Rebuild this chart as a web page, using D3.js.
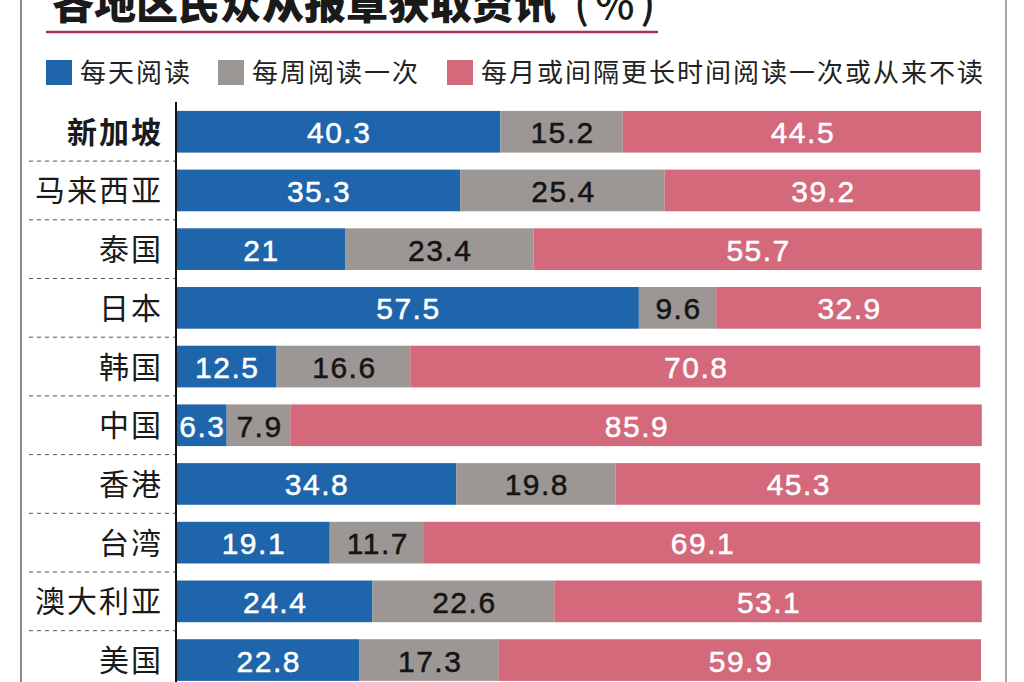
<!DOCTYPE html>
<html>
<head>
<meta charset="utf-8">
<script src="https://cdn.jsdelivr.net/npm/d3@7/dist/d3.min.js"></script>
<style>
html,body{margin:0;padding:0;background:#fff;}
svg{display:block;}
</style>
</head>
<body>
<svg id="chart" width="1024" height="682"></svg>
<script>
const titleMain = "各地区民众从报章获取资讯";
const titleUnit = ["(", "%", ")"];
const seriesNames = ["每天阅读", "每周阅读一次", "每月或间隔更长时间阅读一次或从来不读"];
const categories = ["新加坡", "马来西亚", "泰国", "日本", "韩国", "中国", "香港", "台湾", "澳大利亚", "美国"];
const daily   = [40.3, 35.3, 21, 57.5, 12.5, 6.3, 34.8, 19.1, 24.4, 22.8];
const weekly  = [15.2, 25.4, 23.4, 9.6, 16.6, 7.9, 19.8, 11.7, 22.6, 17.3];
const monthly = [44.5, 39.2, 55.7, 32.9, 70.8, 85.9, 45.3, 69.1, 53.1, 59.9];

const colors = ["#1f65ab", "#9c9794", "#d3697b"];
const labelColors = ["#ffffff", "#141414", "#ffffff"];

const svg = d3.select("#chart");
const W = 1024, H = 682;

const rows = categories.map((c, i) => ({cat: c, vals: [daily[i], weekly[i], monthly[i]]}));

const x = d3.scaleLinear().domain([0, 100]).range([176, 981]);
const y = d3.scaleBand().domain(categories).range([102.4, 689.4]).paddingInner(0.29).paddingOuter(0.145);

// frame lines
svg.append("line").attr("x1", 21).attr("x2", 21).attr("y1", 0).attr("y2", H)
  .attr("stroke", "#8a8a8a").attr("stroke-width", 2);
svg.append("line").attr("x1", 1006).attr("x2", 1006).attr("y1", 0).attr("y2", H)
  .attr("stroke", "#8a8a8a").attr("stroke-width", 1.5);

// title
const t = svg.append("text").attr("x", 52).attr("y", 19)
  .attr("font-family", "'Noto Sans CJK SC', sans-serif").attr("font-weight", 900)
  .attr("font-size", 42).attr("fill", "#1a1a1a");
t.append("tspan").text(titleMain);
t.append("tspan").attr("dx", 18).attr("font-weight", 500).text(titleUnit[0]);
t.append("tspan").attr("dx", 6).attr("font-weight", 500).text(titleUnit[1]);
t.append("tspan").attr("dx", 6).attr("font-weight", 500).text(titleUnit[2]);
svg.append("line").attr("x1", 46).attr("x2", 658).attr("y1", 32).attr("y2", 32)
  .attr("stroke", "#a8344d").attr("stroke-width", 2.5);

// legend
const legendX = [46, 218, 447];
const lg = svg.append("g");
seriesNames.forEach((s, i) => {
  lg.append("rect").attr("x", legendX[i]).attr("y", 60).attr("width", 26).attr("height", 25).attr("fill", colors[i]);
  lg.append("text").attr("x", legendX[i] + 34).attr("y", 82)
    .attr("font-family", "'Noto Sans CJK SC', sans-serif").attr("font-size", 26)
    .attr("letter-spacing", 2).attr("fill", "#222").text(s);
});

// dashed separators
const step = y.step();
categories.forEach((c, i) => {
  if (i === 0) return;
  const yy = y(c) - (step - y.bandwidth()) / 2;
  svg.append("line").attr("x1", 29).attr("x2", 175).attr("y1", yy).attr("y2", yy)
    .attr("stroke", "#555").attr("stroke-width", 1).attr("stroke-dasharray", "4,4");
});

// bars
const g = svg.append("g");
rows.forEach(r => {
  let acc = 0;
  r.vals.forEach((v, k) => {
    const x0 = x(acc), x1 = x(acc + v);
    g.append("rect").attr("x", x0).attr("y", y(r.cat)).attr("width", x1 - x0).attr("height", y.bandwidth())
      .attr("fill", colors[k]);
    g.append("text").attr("x", (x0 + x1) / 2 + 1).attr("y", y(r.cat) + y.bandwidth() / 2 + 11.5)
      .attr("text-anchor", "middle").attr("font-family", "'Liberation Sans', Arial, sans-serif")
      .attr("font-size", 30).attr("letter-spacing", 1.5)
      .attr("fill", labelColors[k]).attr("stroke", labelColors[k]).attr("stroke-width", 0.5)
      .text(String(v));
    acc += v;
  });
});

// category labels
rows.forEach((r, i) => {
  svg.append("text").attr("x", 163).attr("y", y(r.cat) + y.bandwidth() / 2 + 11)
    .attr("text-anchor", "end").attr("font-family", "'Noto Sans CJK SC', sans-serif")
    .attr("font-size", 30).attr("letter-spacing", 2)
    .attr("font-weight", i === 0 ? 700 : 400).attr("fill", "#1a1a1a").text(r.cat);
});

// axis line
svg.append("line").attr("x1", 176).attr("x2", 176).attr("y1", 102).attr("y2", H)
  .attr("stroke", "#111").attr("stroke-width", 2);
</script>
</body>
</html>
